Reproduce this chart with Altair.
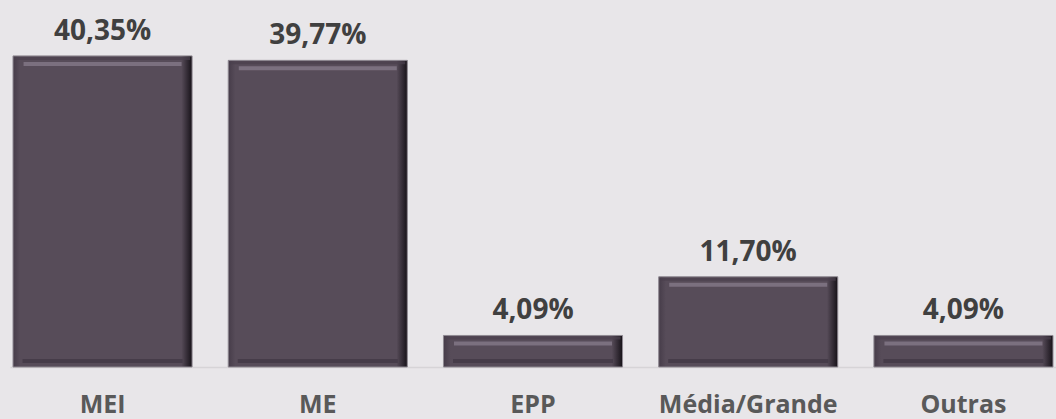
import altair as alt
import pandas as pd

categories = ["MEI", "ME", "EPP", "Média/Grande", "Outras"]
values = [40.35, 39.77, 4.09, 11.70, 4.09]
labels = ["40,35%", "39,77%", "4,09%", "11,70%", "4,09%"]

df = pd.DataFrame({"cat": categories, "val": values, "lab": labels, "base": [0] * len(categories)})

x = alt.X("cat:N", sort=categories,
          scale=alt.Scale(paddingInner=0.168, paddingOuter=0.014),
          axis=alt.Axis(title=None, labelAngle=0, ticks=False, labelPadding=25,
                        labelFont="Open Sans", labelFontWeight="bold", labelFontSize=25,
                        labelColor="#595959", domainColor="#d6d4d7", domainWidth=1.5))
yscale = alt.Scale(domain=[0, 47.6], nice=False, zero=True)
y = alt.Y("val:Q", scale=yscale, axis=None)

base = alt.Chart(df).encode(x=x, y=y)

fill = alt.Gradient(
    gradient="linear", x1=0, x2=1, y1=0, y2=0,
    stops=[
        alt.GradientStop(color="#463c49", offset=0),
        alt.GradientStop(color="#574c59", offset=0.04),
        alt.GradientStop(color="#574c59", offset=0.94),
        alt.GradientStop(color="#2c252e", offset=0.98),
        alt.GradientStop(color="#151116", offset=1),
    ],
)

bars = base.mark_bar(color=fill, stroke="#8f8992", strokeWidth=1)

highlight = base.mark_tick(color="#807483", thickness=4, size=158, yOffset=8, opacity=0.9)
topdark = base.mark_tick(color="#4a404d", thickness=3, size=175, yOffset=2.5)
shade = alt.Chart(df).mark_tick(color="#3f3643", thickness=4, size=160, yOffset=-6).encode(
    x=alt.X("cat:N", sort=categories), y=alt.Y("base:Q", scale=yscale, axis=None))

text = base.mark_text(baseline="alphabetic", dy=-16, font="Open Sans", fontWeight="bold",
                      fontSize=28, color="#404040").encode(text="lab:N")

chart = alt.layer(bars, topdark, highlight, shade, text).properties(
    width=1046, height=367,
    background="#e8e6e9",
    padding={"left": 10, "right": 0, "top": 0, "bottom": 52},
    autosize=alt.AutoSizeParams(type="none"),
).configure_view(stroke=None)

chart.save("out.html", embed_options={"renderer": "svg", "actions": False})
